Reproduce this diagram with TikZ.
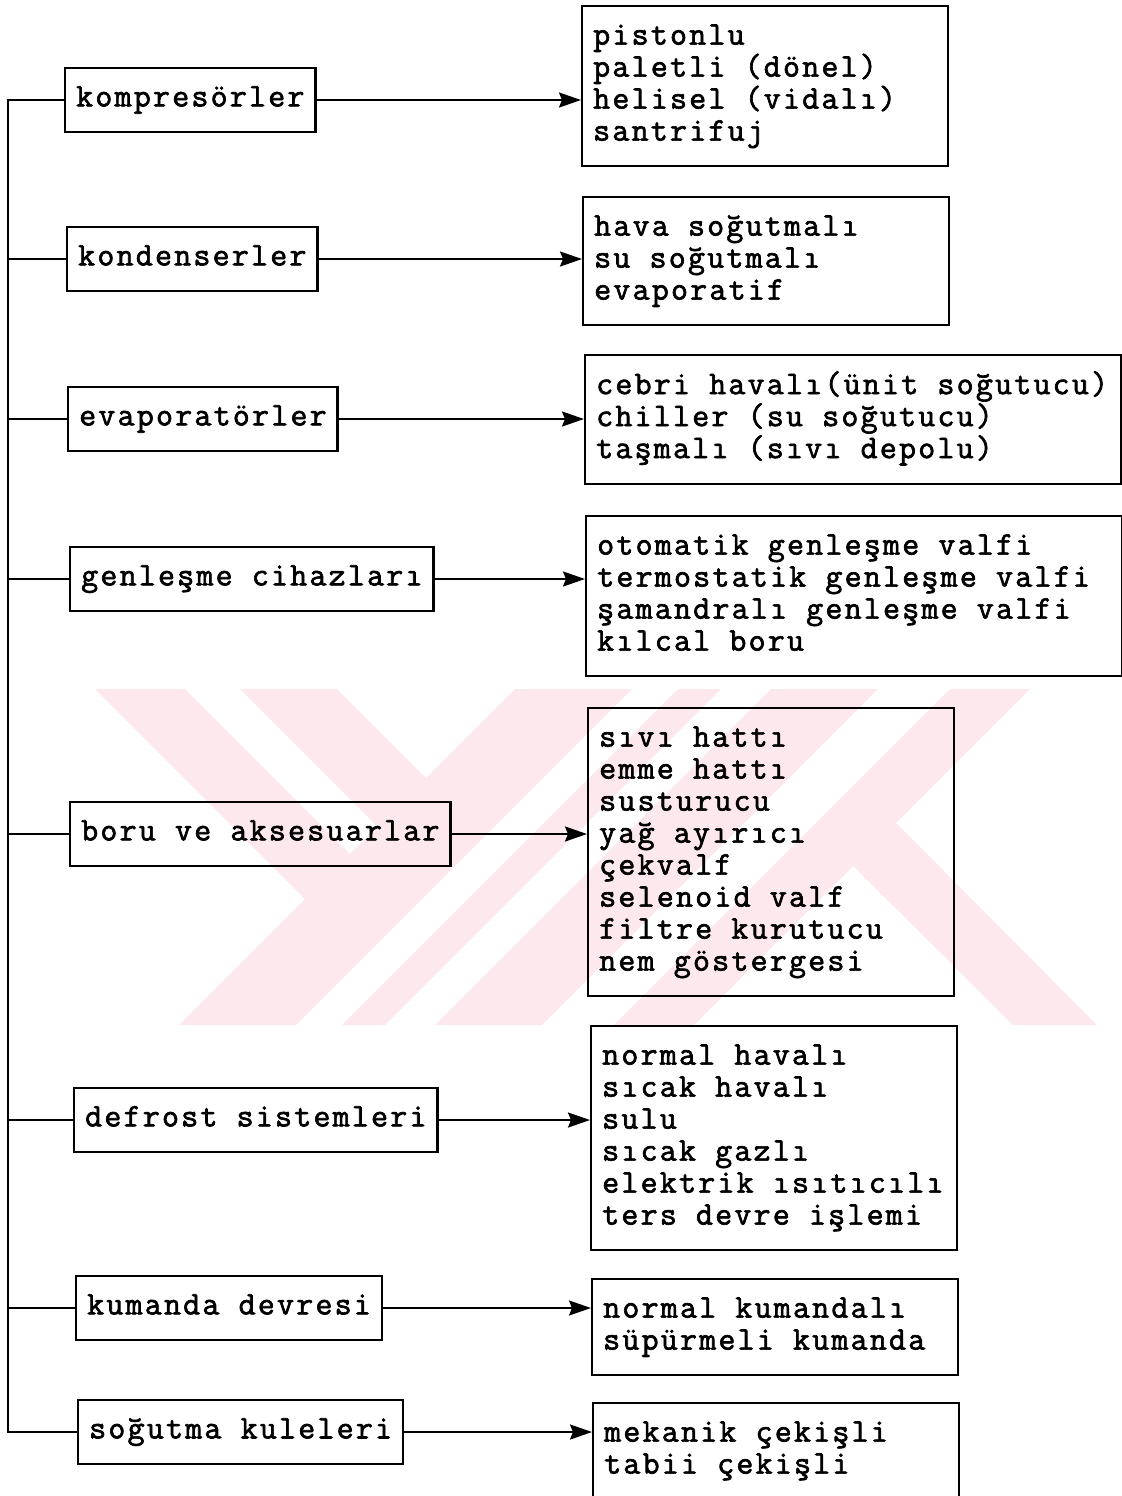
\documentclass[tikz,border=0pt]{standalone}
\usepackage{fontspec}
\usetikzlibrary{arrows.meta}
\newfontfamily\boxfont{Latin Modern Mono}[LetterSpace = 6.7, BoldFont = Latin Modern Mono, BoldFeatures = {FakeBold = 2}]
\definecolor{wmark}{RGB}{253,233,237}

\begin{document}
\begin{tikzpicture}[x = 0.5pt, y = -0.5pt,
	every node/.style = {font = {\boxfont\bfseries\fontsize{16.5}{16}\selectfont\lineskiplimit = -20pt}, line width = 1.2pt},
	grp/.style = {draw, anchor = west, inner xsep = 5.5pt, inner ysep = 8pt, execute at begin node = \strut},
	kind/.style = {draw, anchor = north west, align = left, text width = 172pt, inner xsep = 5.5pt, inner ysep = 8pt,
		execute at begin node = {\spaceskip = 9.6pt\xspaceskip = 9.6pt\relax\strut}, execute at end node = \strut},
	wide/.style = {kind, text width = 257pt},
	wire/.style = {line width = 1pt},
	arr/.style = {wire, -{Stealth[length = 11pt, width = 7.5pt, inset = 1.5pt]}}]
		\useasboundingbox (0, 0) rectangle (1122, 1496);
		%%%%%%%%%%%%% watermark
		\begin{scope}
			\clip (0, 689) rectangle (1122, 1025);
			\fill[wmark] (515, 689) -- (632, 689) -- (296, 1025) -- (179, 1025) -- cycle;
			\fill[wmark] (678, 689) -- (721, 689) -- (385, 1025) -- (342, 1025) -- cycle;
			\fill[wmark] (771, 689) -- (878, 689) -- (542, 1025) -- (435, 1025) -- cycle;
			\fill[wmark] (950, 689) -- (1030, 689) -- (694, 1025) -- (614, 1025) -- cycle;
			\fill[wmark] (95, 689) -- (185, 689) -- (350, 854) -- (305, 899) -- cycle;
			\fill[wmark] (240, 689) -- (337, 689) -- (426, 778) -- (377.5, 826.5) -- cycle;
			\fill[wmark] (896, 823) -- (1097, 1025) -- (1013, 1025) -- (853, 866) -- cycle;
		\end{scope}
		%%%%%%%%%%%%% groups
		\node[grp] (k1) at (64, 100) {kompresörler};
		\node[grp] (k2) at (66, 259) {kondenserler};
		\node[grp] (k3) at (67, 419) {evaporatörler};
		\node[grp] (k4) at (69, 579) {genleşme cihazları};
		\node[grp] (k5) at (69, 834) {boru ve aksesuarlar};
		\node[grp] (k6) at (73, 1120) {defrost sistemleri};
		\node[grp] (k7) at (75, 1308) {kumanda devresi};
		\node[grp] (k8) at (77, 1432) {soğutma kuleleri};
		%%%%%%%%%%%%% kinds
		\node[kind] (t1) at (581, 5) {pistonlu\\paletli (dönel)\\helisel (vidalı)\\santrifuj};
		\node[kind] (t2) at (582, 196) {hava soğutmalı\\su soğutmalı\\evaporatif};
		\node[wide] (t3) at (584, 354) {cebri havalı(ünit soğutucu)\\chiller (su soğutucu)\\taşmalı (sıvı depolu)};
		\node[wide] (t4) at (585, 515) {otomatik genleşme valfi\\termostatik genleşme valfi\\şamandralı genleşme valfi\\kılcal boru};
		\node[kind] (t5) at (587, 707) {sıvı hattı\\emme hattı\\susturucu\\yağ ayırıcı\\çekvalf\\selenoid valf\\filtre kurutucu\\nem göstergesi};
		\node[kind] (t6) at (590, 1025) {normal havalı\\sıcak havalı\\sulu\\sıcak gazlı\\elektrik ısıtıcılı\\ters devre işlemi};
		\node[kind] (t7) at (591, 1278) {normal kumandalı\\süpürmeli kumanda};
		\node[kind] (t8) at (592, 1402) {mekanik çekişli\\tabii çekişli};
		%%%%%%%%%%%%% connectors
		\coordinate (sp) at (8, 0);
		\draw[wire] (k1.west) to (k1.west -| sp) to (k8.west -| sp) to (k8.west);
		\foreach \i in {2, ..., 7} \draw[wire] (k\i.west -| sp) to (k\i.west);
		\foreach \i in {1, ..., 8} \draw[arr] (k\i.east) to (k\i.east -| t\i.west);
\end{tikzpicture}
\end{document}
